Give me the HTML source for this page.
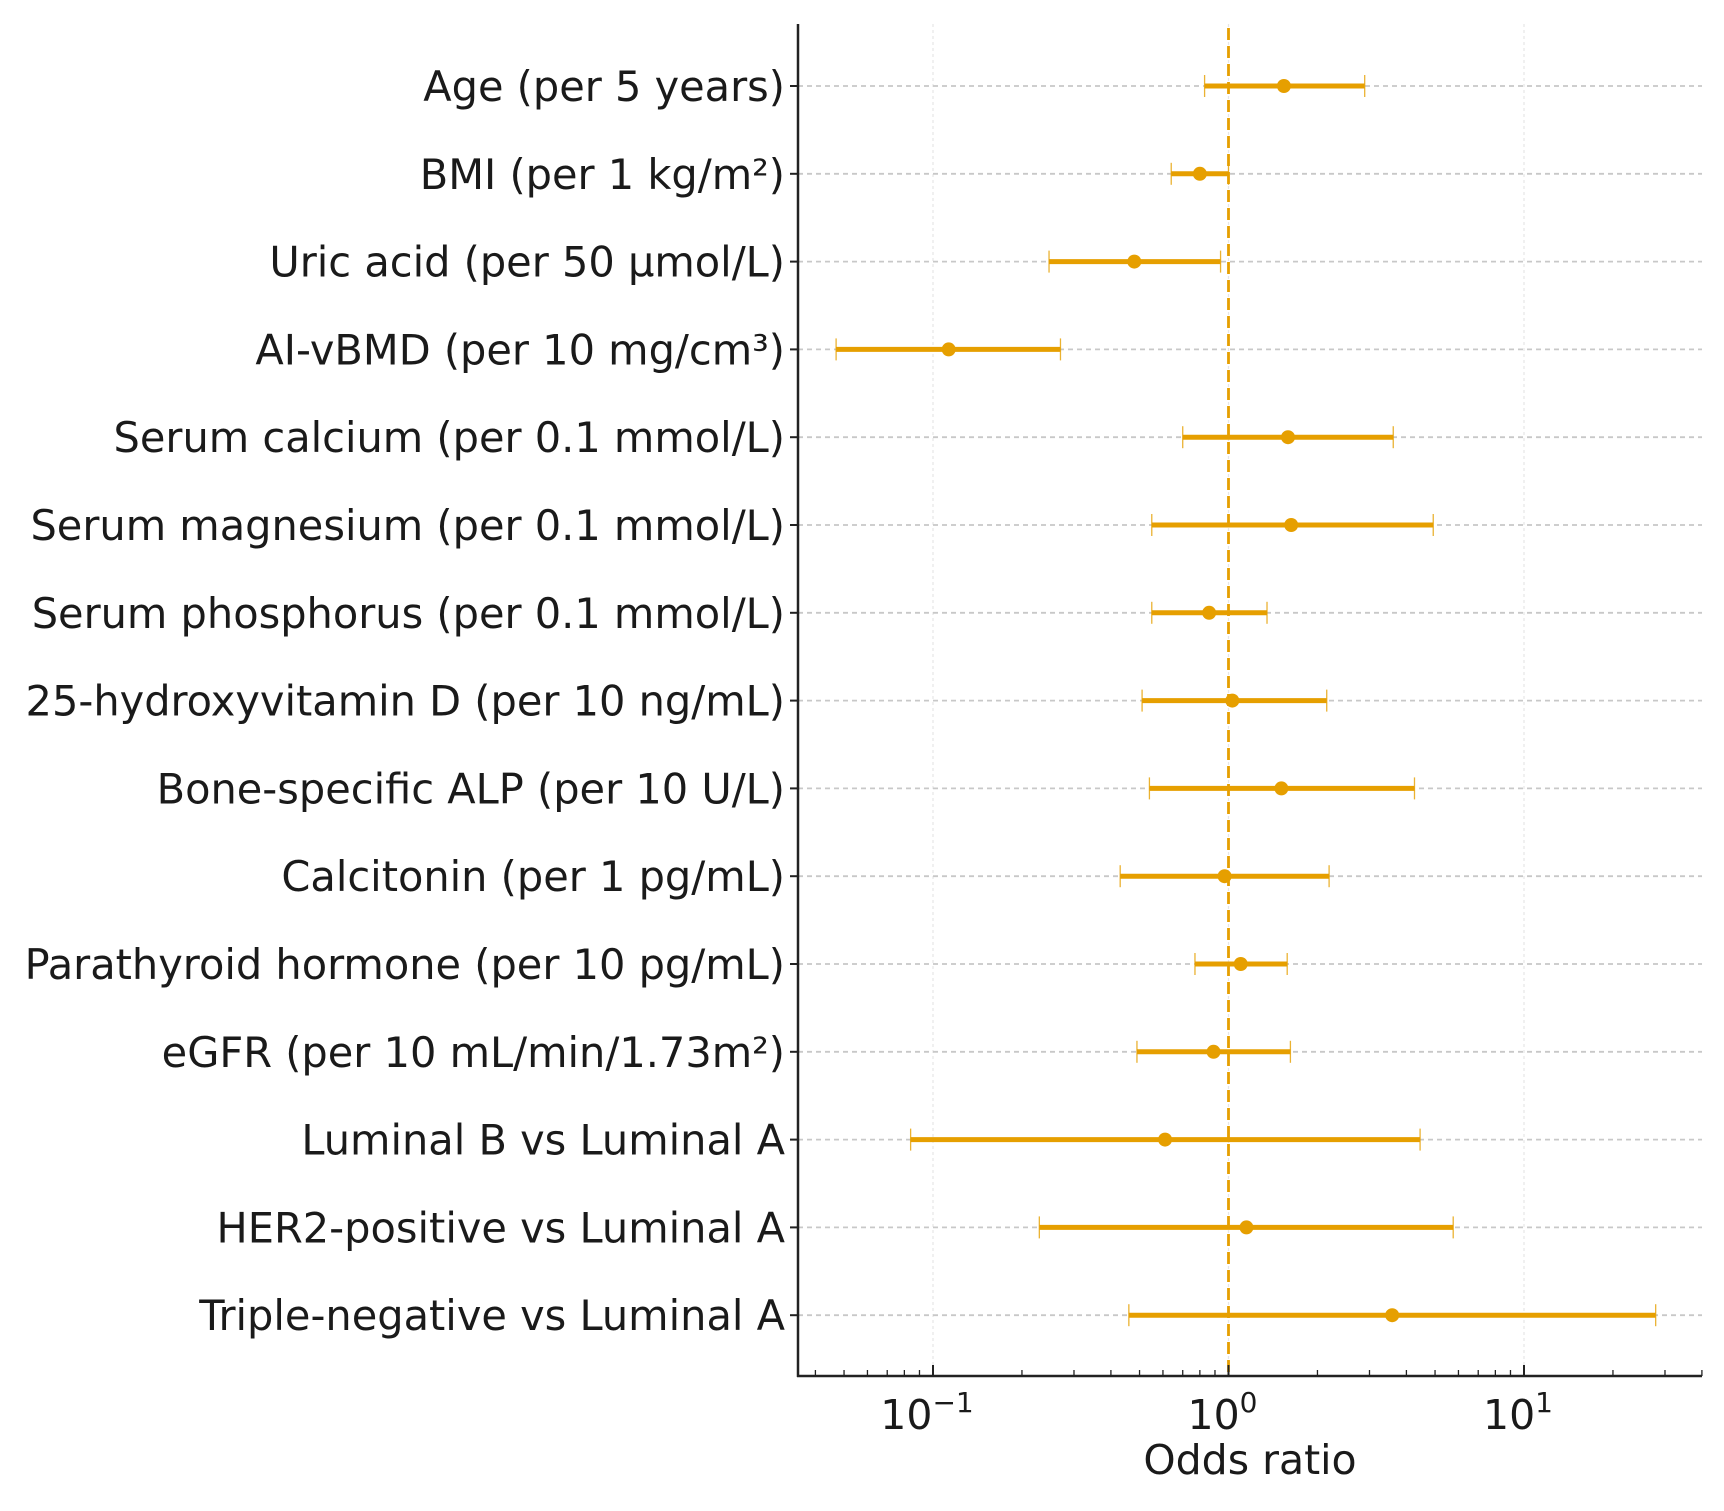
<!DOCTYPE html>
<html><head><meta charset="utf-8"><style>
html,body{margin:0;padding:0;background:#fff;}
svg{display:block;font-family:"DejaVu Sans","Liberation Sans",sans-serif;}
</style></head><body>
<svg id="chart" width="1724" height="1511" viewBox="0 0 1724 1511" xmlns="http://www.w3.org/2000/svg"></svg>
<script>
const categories = ["Age (per 5 years)","BMI (per 1 kg/m²)","Uric acid (per 50 µmol/L)","AI-vBMD (per 10 mg/cm³)","Serum calcium (per 0.1 mmol/L)","Serum magnesium (per 0.1 mmol/L)","Serum phosphorus (per 0.1 mmol/L)","25-hydroxyvitamin D (per 10 ng/mL)","Bone-specific ALP (per 10 U/L)","Calcitonin (per 1 pg/mL)","Parathyroid hormone (per 10 pg/mL)","eGFR (per 10 mL/min/1.73m²)","Luminal B vs Luminal A","HER2-positive vs Luminal A","Triple-negative vs Luminal A"];
const oddsRatio = [1.54,0.80,0.48,0.113,1.59,1.63,0.86,1.03,1.51,0.97,1.10,0.89,0.61,1.15,3.58];
const ciLower = [0.83,0.64,0.247,0.047,0.70,0.55,0.55,0.51,0.54,0.43,0.77,0.49,0.084,0.229,0.46];
const ciUpper = [2.89,1.00,0.94,0.27,3.61,4.93,1.35,2.15,4.26,2.19,1.58,1.62,4.45,5.76,27.9];
const xTickValues = [0.1,1,10];
const xTickExps = ["−1","0","1"];
const refValue = 1;

const NS="http://www.w3.org/2000/svg";
const svg=document.getElementById('chart');
const L=798,R=1702,T=24,B=1376;
const c0=1228.5, dec=295.5;
function xs(v){return c0+Math.log10(v)*dec;}
const y0=86, dy=87.8;
function ys(i){return y0+i*dy;}
function el(tag,attrs,parent){const e=document.createElementNS(NS,tag);for(const k in attrs)e.setAttribute(k,attrs[k]);(parent||svg).appendChild(e);return e;}
const ORANGE="#E69F00";

xTickValues.forEach((v,i)=>{
  const g=el('line',{x1:xs(v),x2:xs(v),y1:T,y2:B,stroke:'#e6e6e6','stroke-width':1.2,'stroke-dasharray':'3,3'});
  
  
});
categories.forEach((c,i)=>{
  const g=el('line',{x1:L,x2:R,y1:ys(i),y2:ys(i),stroke:'#c8c8c8','stroke-width':1.8,'stroke-dasharray':'5,4'});
  
  
  const tk=el('line',{x1:L-8,x2:L,y1:ys(i),y2:ys(i),stroke:'#222','stroke-width':2});
  
  
  const t=el('text',{x:L-13,y:ys(i)+15,'text-anchor':'end','font-size':41.5,fill:'#1a1a1a'});
  t.textContent=c;
  
  
});
const ref=el('line',{x1:xs(refValue),x2:xs(refValue),y1:T+4,y2:B,stroke:ORANGE,'stroke-width':2.8,'stroke-dasharray':'12,6'});


categories.forEach((c,i)=>{
  const y=ys(i);
  const ln=el('line',{x1:xs(ciLower[i]),x2:xs(ciUpper[i]),y1:y,y2:y,stroke:ORANGE,'stroke-width':5});
  
  
  [ciLower[i],ciUpper[i]].forEach(v=>{
    const cap=el('line',{x1:xs(v),x2:xs(v),y1:y-11,y2:y+11,stroke:ORANGE,'stroke-width':1.3,opacity:0.8});
    
    
  });
  const pt=el('circle',{cx:xs(oddsRatio[i]),cy:y,r:7,fill:ORANGE});
  
  
});
const ya=el('line',{x1:L,x2:L,y1:T,y2:B+1,stroke:'#222','stroke-width':2.5});


const xa=el('line',{x1:L-1,x2:R,y1:B,y2:B,stroke:'#222','stroke-width':2.5});


for(let e=-2;e<=1;e++){for(let m=2;m<=9;m++){const v=m*Math.pow(10,e);const x=xs(v);if(x<L||x>R)continue;
  const mt=el('line',{x1:x,x2:x,y1:B,y2:B-6,stroke:'#222','stroke-width':1.3});
  
  
}}
xTickValues.forEach((v,i)=>{
  const x=xs(v);
  const tk=el('line',{x1:x,x2:x,y1:B,y2:B-11,stroke:'#222','stroke-width':2});
  
  
  const t=el('text',{x:x-6,y:B+53,'text-anchor':'middle','font-size':41,fill:'#1a1a1a'});
  
  
  t.appendChild(document.createTextNode('10'));
  const s=el('tspan',{dy:-17,'font-size':28},t);
  s.textContent=xTickExps[i];
});
const xt=el('text',{x:1250,y:1474,'text-anchor':'middle','font-size':41,fill:'#1a1a1a'});
xt.textContent='Odds ratio';


</script>
</body></html>
